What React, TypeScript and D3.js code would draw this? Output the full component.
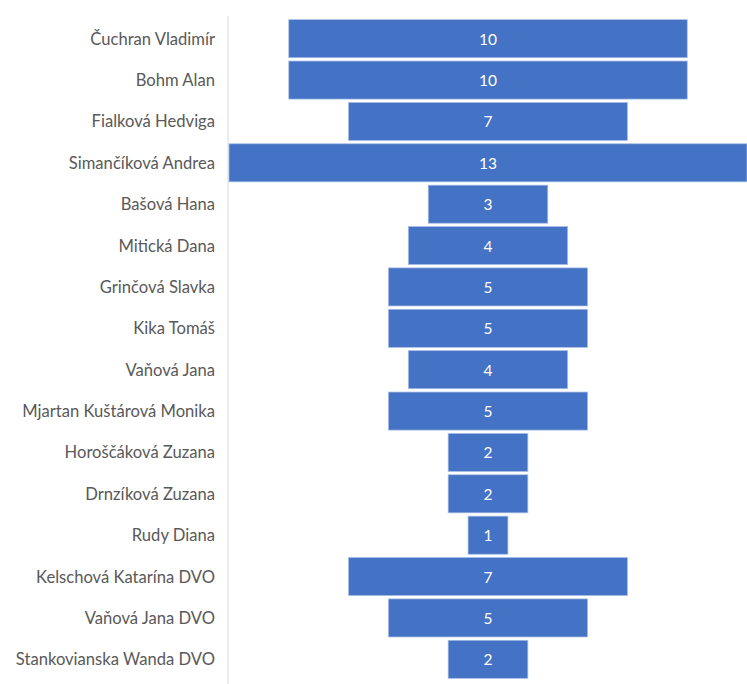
import { useMemo } from "react";
import * as d3 from "d3";

const WIDTH = 747;
const HEIGHT = 684;
const MARGIN = { top: 18, right: 0, bottom: 4, left: 229 };

const names = [
  "Čuchran Vladimír",
  "Bohm Alan",
  "Fialková Hedviga",
  "Simančíková Andrea",
  "Bašová Hana",
  "Mitická Dana",
  "Grinčová Slavka",
  "Kika Tomáš",
  "Vaňová Jana",
  "Mjartan Kuštárová Monika",
  "Horoščáková Zuzana",
  "Drnzíková Zuzana",
  "Rudy Diana",
  "Kelschová Katarína DVO",
  "Vaňová Jana DVO",
  "Stankovianska Wanda DVO",
];
const counts = [10, 10, 7, 13, 3, 4, 5, 5, 4, 5, 2, 2, 1, 7, 5, 2];

const BAR_COLOR = "#4472C4";
const FONT = "Lato, 'Open Sans', sans-serif";

export default function App() {
  const boundsWidth = WIDTH - MARGIN.left - MARGIN.right;
  const boundsHeight = HEIGHT - MARGIN.top - MARGIN.bottom;

  const yScale = useMemo(
    () => d3.scaleBand().domain(names).range([0, boundsHeight]).paddingInner(0.08).paddingOuter(0.04),
    [boundsHeight]
  );
  const maxValue = d3.max(counts) || 0;
  // funnel: bars are centred, so the scale runs symmetric around zero
  const xScale = useMemo(
    () => d3.scaleLinear().domain([-maxValue / 2, maxValue / 2]).range([0, boundsWidth]),
    [boundsWidth, maxValue]
  );

  const bars = names.map((name, i) => {
    const v = counts[i];
    const y = yScale(name) || 0;
    const x0 = xScale(-v / 2);
    const x1 = xScale(v / 2);
    return (
      <g key={name}>
        <rect
          x={x0}
          y={y}
          width={x1 - x0}
          height={yScale.bandwidth()}
          fill={BAR_COLOR}
          stroke="#a9bfe6"
          strokeWidth={0.75}
        />
        <text
          x={xScale(0)}
          y={y + yScale.bandwidth() / 2}
          textAnchor="middle"
          dominantBaseline="central"
          fill="#ffffff"
          fontSize={15.5}
          fontFamily={FONT}
        >
          {v}
        </text>
      </g>
    );
  });

  const labels = names.map((name) => (
    <text
      key={name}
      x={-14}
      y={(yScale(name) || 0) + yScale.bandwidth() / 2}
      textAnchor="end"
      dominantBaseline="central"
      fill="#595959"
      fontSize={16.6}
      fontFamily={FONT}
    >
      {name}
    </text>
  ));

  return (
    <div style={{ position: "absolute", left: 0, top: 0 }}>
      <svg width={WIDTH} height={HEIGHT} style={{ display: "block" }}>
        <g transform={`translate(${MARGIN.left},${MARGIN.top})`}>
          <line x1={-1} x2={-1} y1={-2} y2={boundsHeight + 4} stroke="#d9d9d9" strokeWidth={1} />
          <g>{bars}</g>
          <g>{labels}</g>
        </g>
      </svg>
    </div>
  );
}
